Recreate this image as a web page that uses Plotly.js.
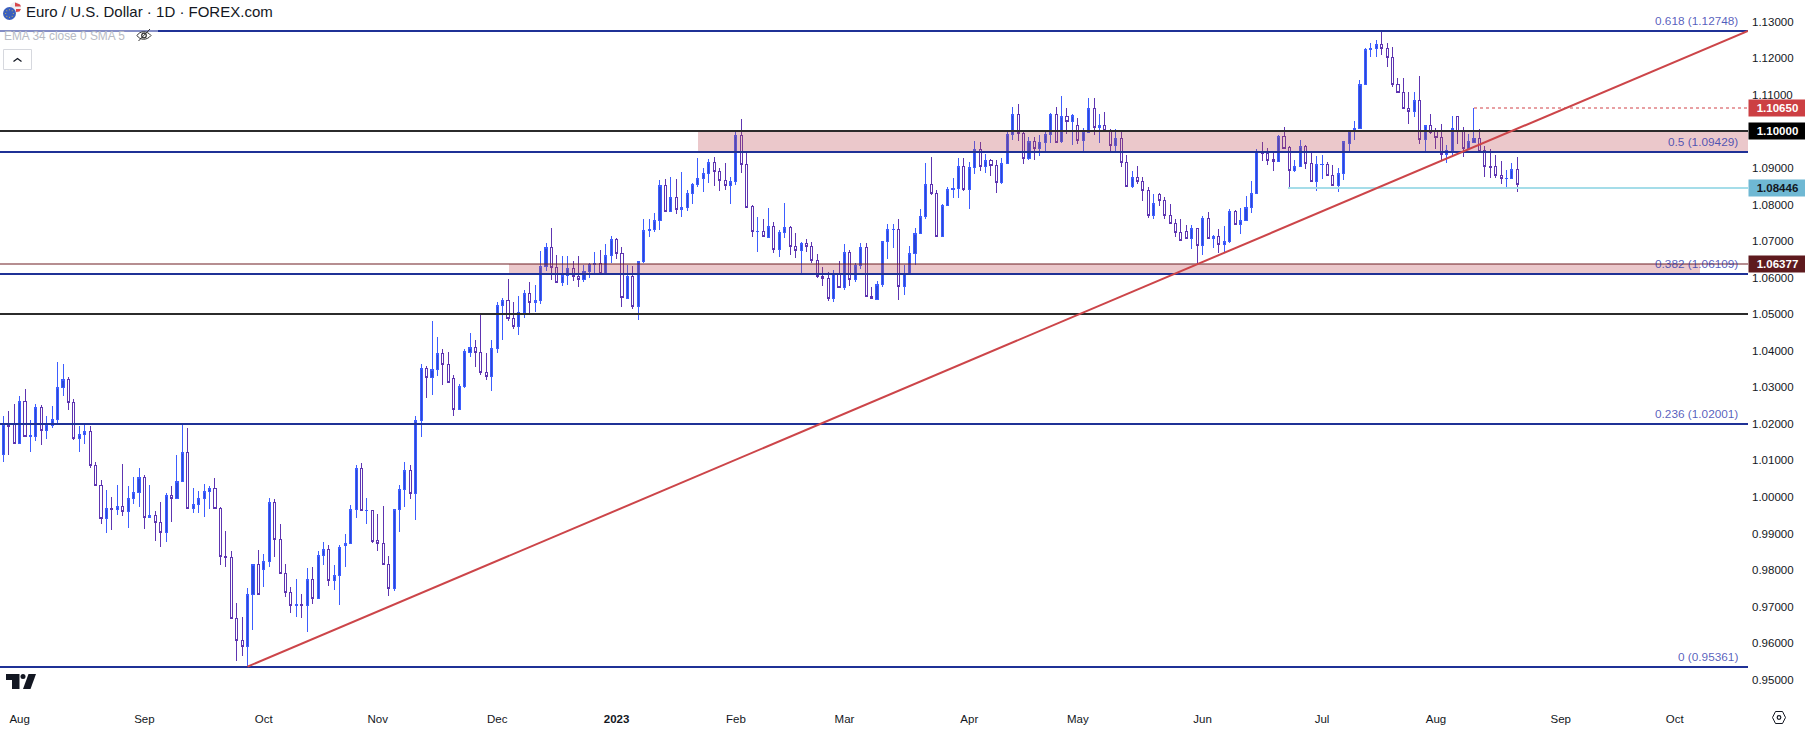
<!DOCTYPE html>
<html>
<head>
<meta charset="utf-8">
<script src="https://cdn.plot.ly/plotly-3.0.1.min.js"></script>
<style>html,body{margin:0;padding:0;background:#fff;overflow:hidden}#chart{width:1805px;height:729px}.boxes path{shape-rendering:crispEdges}</style>
</head>
<body>
<div id="chart"></div>
<script>
const opens = [
1.0115,1.0199,1.0197,1.0145,1.0262,1.0165,1.0165,1.0245,1.0181,1.0195,
1.0211,1.0299,1.0322,1.0259,1.0159,1.0170,1.0180,1.0087,1.0031,.9941,
.9969,.9966,.9974,.9961,.9996,1.0013,1.0054,.9944,.9950,.9931,
.9904,1.0004,.9995,1.0043,1.0122,.9968,.9980,.9996,1.0015,1.0024,
.9969,.9836,.9835,.9667,.9607,.9590,.9734,.9816,.9802,.9823,
.9985,.9884,.9791,.9739,.9704,.9705,.9704,.9775,.9722,.9840,
.9857,.9771,.9785,.9868,.9873,.9965,1.0079,.9963,.9963,.9880,
.9873,.9816,.9749,.9966,1.0021,1.0073,1.0009,1.0209,1.0352,1.0326,
1.0348,1.0393,1.0363,1.0325,1.0239,1.0302,1.0396,1.0409,1.0396,1.0341,
1.0329,1.0406,1.0524,1.0538,1.0489,1.0466,1.0504,1.0557,1.0532,1.0538,
1.0631,1.0683,1.0628,1.0587,1.0606,1.0625,1.0604,1.0595,1.0617,1.0636,
1.0639,1.0611,1.0661,1.0705,1.0666,1.0543,1.0604,1.0520,1.0644,1.0729,
1.0731,1.0757,1.0852,1.0780,1.0820,1.0787,1.0792,1.0831,1.0855,1.0870,
1.0885,1.0915,1.0891,1.0866,1.0851,1.0862,1.0989,1.0909,1.0795,1.0726,
1.0727,1.0710,1.0740,1.0676,1.0723,1.0738,1.0686,1.0674,1.0694,1.0686,
1.0647,1.0604,1.0598,1.0542,1.0610,1.0572,1.0669,1.0595,1.0633,1.0683,
1.0549,1.0541,1.0581,1.0699,1.0731,1.0732,1.0575,1.0611,1.0666,1.0720,
1.0767,1.0855,1.0831,1.0712,1.0798,1.0841,1.0843,1.0904,1.0840,1.0901,
1.0951,1.0903,1.0921,1.0907,1.0860,1.0913,1.0992,1.1047,1.0995,1.0925,
1.0973,1.0953,1.0970,1.0992,1.1047,1.0971,1.1041,1.1028,1.1017,1.0976,
1.0997,1.1063,1.1011,1.1017,1.1003,1.0962,1.0981,1.0915,1.0849,1.0874,
1.0863,1.0839,1.0769,1.0828,1.0811,1.0770,1.0747,1.0724,1.0727,1.0707,
1.0735,1.0687,1.0762,1.0707,1.0713,1.0691,1.0698,1.0781,1.0746,1.0757,
1.0792,1.0830,1.0945,1.0940,1.0922,1.0917,1.0986,1.0956,1.0892,1.0903,
1.0959,1.0912,1.0862,1.0909,1.0910,1.0880,1.0851,1.0884,1.0966,1.1000,
1.1007,1.1129,1.1223,1.1226,1.1238,1.1227,1.1203,1.1128,1.1107,1.1063,
1.1055,1.1085,1.0978,1.1016,1.0999,1.0984,1.0937,1.0947,1.1041,1.1003,
1.0954,1.0970,1.0981,1.0948,1.0904,1.0904,1.0880,1.0871,1.0871,1.0896];
const closes = [
1.0199,1.0194,1.0145,1.0262,1.0165,1.0167,1.0245,1.0182,1.0198,1.0212,
1.0300,1.0322,1.0259,1.0159,1.0171,1.0180,1.0087,1.0031,.9941,.9969,
.9966,.9974,.9961,.9996,1.0013,1.0054,.9944,.9950,.9931,.9904,
1.0004,.9995,1.0043,1.0122,.9968,.9980,.9996,1.0015,1.0024,.9969,
.9836,.9835,.9667,.9607,.9590,.9734,.9816,.9733,.9824,.9985,
.9884,.9790,.9738,.9704,.9705,.9704,.9775,.9722,.9840,.9857,
.9771,.9786,.9862,.9873,.9967,1.0079,.9962,.9964,.9879,.9873,
.9815,.9749,.9966,1.0021,1.0073,1.0009,1.0209,1.0352,1.0326,1.0349,
1.0393,1.0362,1.0312,1.0239,1.0303,1.0397,1.0409,1.0396,1.0340,1.0329,
1.0407,1.0524,1.0538,1.0488,1.0466,1.0505,1.0557,1.0532,1.0538,1.0631,
1.0683,1.0628,1.0587,1.0606,1.0625,1.0604,1.0595,1.0617,1.0636,1.0639,
1.0612,1.0661,1.0705,1.0666,1.0546,1.0604,1.0520,1.0645,1.0729,1.0732,
1.0757,1.0852,1.0780,1.0820,1.0787,1.0792,1.0831,1.0855,1.0872,1.0885,
1.0915,1.0891,1.0866,1.0851,1.0863,1.0989,1.0909,1.0792,1.0726,1.0727,
1.0712,1.0740,1.0676,1.0724,1.0738,1.0685,1.0674,1.0694,1.0686,1.0646,
1.0604,1.0597,1.0542,1.0610,1.0572,1.0669,1.0595,1.0634,1.0683,1.0549,
1.0542,1.0582,1.0699,1.0732,1.0732,1.0575,1.0612,1.0666,1.0721,1.0768,
1.0855,1.0831,1.0712,1.0798,1.0841,1.0844,1.0904,1.0840,1.0902,1.0951,
1.0903,1.0921,1.0907,1.0860,1.0913,1.0992,1.1047,1.0995,1.0925,1.0973,
1.0953,1.0970,1.0992,1.1047,1.0970,1.1041,1.1028,1.1044,1.0976,1.1000,
1.1063,1.1011,1.1017,1.1003,1.0962,1.0981,1.0915,1.0850,1.0874,1.0862,
1.0839,1.0769,1.0803,1.0811,1.0769,1.0747,1.0723,1.0701,1.0707,1.0735,
1.0687,1.0762,1.0707,1.0713,1.0691,1.0699,1.0781,1.0746,1.0757,1.0792,
1.0831,1.0945,1.0940,1.0920,1.0917,1.0986,1.0954,1.0892,1.0904,1.0959,
1.0912,1.0862,1.0910,1.0910,1.0879,1.0851,1.0885,1.0973,1.0999,1.1008,
1.1129,1.1225,1.1227,1.1238,1.1226,1.1203,1.1128,1.1107,1.1062,1.1055,
1.1085,1.0978,1.1016,1.0996,1.0984,1.0937,1.0948,1.1008,1.1001,1.0954,
1.0973,1.0981,1.0946,1.0903,1.0902,1.0879,1.0871,1.0872,1.0896,1.0854];
const highs = [
1.0221,1.0235,1.0253,1.0276,1.0295,1.0210,1.0253,1.0251,1.0221,1.0249,
1.0368,1.0364,1.0327,1.0268,1.0194,1.0201,1.0194,1.0096,1.0046,1.0019,
.9999,1.0033,1.0089,1.0030,1.0054,1.0078,1.0059,1.0033,.9961,.9986,
1.0010,1.0030,1.0115,1.0200,1.0188,1.0024,1.0017,1.0035,1.0030,1.0051,
.9972,.9907,.9852,.9709,.9671,.9750,.9817,.9855,.9844,.9998,
.9995,.9926,.9817,.9753,.9775,.9734,.9806,.9808,.9852,.9876,
.9870,.9814,.9868,.9899,.9978,1.0088,1.0092,.9996,.9965,.9953,
.9974,.9839,.9967,1.0033,1.0096,1.0087,1.0221,1.0364,1.0358,1.0480,
1.0437,1.0406,1.0396,1.0334,1.0309,1.0404,1.0448,1.0429,1.0499,1.0394,
1.0429,1.0533,1.0543,1.0596,1.0533,1.0550,1.0565,1.0588,1.0580,1.0673,
1.0694,1.0735,1.0662,1.0659,1.0659,1.0645,1.0659,1.0634,1.0639,1.0669,
1.0676,1.0692,1.0714,1.0707,1.0683,1.0634,1.0632,1.0645,1.0760,1.0760,
1.0777,1.0867,1.0870,1.0874,1.0870,1.0888,1.0840,1.0858,1.0926,1.0899,
1.0924,1.0930,1.0899,1.0913,1.0874,1.0999,1.1034,1.0943,1.0798,1.0766,
1.0760,1.0790,1.0752,1.0729,1.0804,1.0741,1.0721,1.0697,1.0705,1.0697,
1.0665,1.0628,1.0614,1.0621,1.0645,1.0692,1.0676,1.0641,1.0694,1.0694,
1.0573,1.0591,1.0699,1.0748,1.0748,1.0759,1.0634,1.0686,1.0735,1.0787,
1.0913,1.0929,1.0839,1.0800,1.0847,1.0872,1.0926,1.0926,1.0915,1.0973,
1.0971,1.0937,1.0924,1.0922,1.0926,1.0999,1.1066,1.1075,1.0999,1.0985,
1.0984,1.0989,1.0998,1.1050,1.1066,1.1097,1.1063,1.1047,1.1036,1.1008,
1.1090,1.1090,1.1047,1.1052,1.1006,1.1006,1.0999,1.0934,1.0891,1.0905,
1.0874,1.0847,1.0829,1.0831,1.0821,1.0801,1.0760,1.0759,1.0743,1.0744,
1.0735,1.0768,1.0780,1.0716,1.0733,1.0741,1.0787,1.0784,1.0790,1.0823,
1.0863,1.0951,1.0971,1.0954,1.0945,1.0989,1.1011,1.0960,1.0922,1.0976,
1.0962,1.0943,1.0933,1.0935,1.0915,1.0907,1.0899,1.0973,1.1000,1.1027,
1.1140,1.1229,1.1242,1.1250,1.1276,1.1241,1.1230,1.1145,1.1145,1.1107,
1.1107,1.1151,1.1017,1.1047,1.1008,1.1020,1.0962,1.1041,1.1041,1.1011,
1.0994,1.1065,1.1006,1.0960,1.0951,1.0935,1.0919,1.0894,1.0913,1.0930];
const lows = [
1.0096,1.0115,1.0145,1.0145,1.0165,1.0124,1.0153,1.0142,1.0158,1.0188,
1.0201,1.0276,1.0238,1.0156,1.0124,1.0145,1.0080,1.0031,.9926,.9902,
.9910,.9951,.9948,.9915,.9981,.9972,.9913,.9944,.9880,.9864,
.9878,.9932,.9995,1.0043,.9968,.9955,.9957,.9946,.9968,.9966,
.9815,.9809,.9667,.9552,.9566,.9536,.9636,.9733,.9755,.9808,
.9836,.9790,.9727,.9682,.9673,.9670,.9631,.9707,.9722,.9814,
.9756,.9745,.9704,.9809,.9873,.9943,.9962,.9926,.9874,.9853,
.9815,.9729,.9744,.9905,.9972,.9994,.9937,1.0165,1.0271,1.0279,
1.0330,1.0307,1.0312,1.0222,1.0239,1.0299,1.0384,1.0356,1.0333,1.0321,
1.0291,1.0395,1.0429,1.0482,1.0460,1.0443,1.0490,1.0502,1.0507,1.0528,
1.0618,1.0593,1.0587,1.0578,1.0580,1.0592,1.0575,1.0589,1.0600,1.0612,
1.0612,1.0611,1.0639,1.0652,1.0520,1.0541,1.0515,1.0484,1.0639,1.0712,
1.0726,1.0731,1.0780,1.0780,1.0774,1.0767,1.0783,1.0801,1.0849,1.0835,
1.0860,1.0851,1.0838,1.0840,1.0801,1.0853,1.0887,1.0792,1.0712,1.0670,
1.0712,1.0708,1.0668,1.0656,1.0708,1.0662,1.0654,1.0612,1.0670,1.0639,
1.0600,1.0577,1.0537,1.0533,1.0572,1.0566,1.0577,1.0589,1.0624,1.0549,
1.0542,1.0541,1.0575,1.0652,1.0680,1.0539,1.0553,1.0609,1.0634,1.0720,
1.0761,1.0825,1.0712,1.0712,1.0796,1.0819,1.0819,1.0838,1.0788,1.0884,
1.0892,1.0887,1.0879,1.0832,1.0857,1.0913,1.0976,1.0974,1.0912,1.0921,
1.0922,1.0933,1.0940,1.0967,1.0968,1.0967,1.0993,1.0963,1.0966,1.0945,
1.0997,1.0989,1.0969,1.1003,1.0943,1.0943,1.0902,1.0850,1.0846,1.0857,
1.0810,1.0764,1.0761,1.0797,1.0761,1.0747,1.0712,1.0701,1.0707,1.0677,
1.0636,1.0662,1.0707,1.0680,1.0668,1.0666,1.0695,1.0746,1.0718,1.0757,
1.0776,1.0830,1.0920,1.0908,1.0892,1.0917,1.0951,1.0846,1.0890,1.0903,
1.0898,1.0862,1.0838,1.0871,1.0879,1.0851,1.0835,1.0868,1.0943,1.0976,
1.1006,1.1129,1.1204,1.1204,1.1209,1.1177,1.1120,1.1107,1.1062,1.1021,
1.1040,1.0966,1.0943,1.0994,1.0952,1.0922,1.0914,1.0935,1.0966,1.0930,
1.0949,1.0967,1.0944,1.0876,1.0873,1.0873,1.0857,1.0846,1.0871,1.0835];
const barIndex = opens.map((_, i) => i);

const monthTicks = [3,26,48,69,91,113,135,155,178,198,221,243,264,287,308];
const monthLabels = ['Aug','Sep','Oct','Nov','Dec','<b>2023</b>','Feb','Mar','Apr','May','Jun','Jul','Aug','Sep','Oct'];
const priceTicks = [0.95,0.96,0.97,0.98,0.99,1.00,1.01,1.02,1.03,1.04,1.05,1.06,1.07,1.08,1.09,1.11,1.12,1.13];
const fibLevels = [1.12748,1.09429,1.06109,1.02001,0.95361];
const fibLabels = ['0.618 (1.12748)','0.5 (1.09429)','0.382 (1.06109)','0.236 (1.02001)','0 (0.95361)'];
const blackLevels = [1.10,1.05];
const priceChips = [
  {value:1.1065, text:'1.10650', bg:'#cc3f43', fg:'#ffffff'},
  {value:1.10,   text:'1.10000', bg:'#000000', fg:'#ffffff'},
  {value:1.08446,text:'1.08446', bg:'#6fb8d3', fg:'#131722'},
  {value:1.06377,text:'1.06377', bg:'#5e1a1e', fg:'#ffffff'}
];
const xFirst = -0.614, xLast = 321.5, yBottom = 0.94447, yTop = 1.13593;
const FONT = 'Liberation Sans, Arial, sans-serif';
const PW = 1748, PH = 700;
const P = x => x / PW, Q = y => 1 - y / PH;
const pathPx = pts => pts.map(s => typeof s === 'string' ? s : P(s[0]) + ',' + Q(s[1])).join(' ').replace(/([MLZ]) /g, '$1');

const shapes = [];
// zones
const zone = (x0, x1, y0, y1) => shapes.push({type:'rect', xref:'x', yref:'y', x0, x1, y0, y1, fillcolor:'rgba(188,72,82,0.3)', line:{width:0}, layer:'above'});
zone(128, xLast, 1.09429, 1.10);
zone(93.2, 312.7, 1.06109, 1.06377);
// horizontal levels
const hline = (x0, y, color, width, dash) => shapes.push({type:'line', xref:'x', yref:'y', x0, x1:xLast, y0:y, y1:y, line:{color, width, dash:dash||'solid'}, layer:'above'});
hline(xFirst, 1.06377, 'rgba(110,30,35,0.5)', 2);
fibLevels.forEach(v => hline(xFirst, v, '#1f3196', 2));
blackLevels.forEach(v => hline(xFirst, v, '#2b2b2b', 2));
hline(236.8, 1.08446, '#a5dde9', 2);
hline(271, 1.1065, '#e8a0a3', 2, 'dot');
const crispCount = shapes.length;
// trend line
shapes.push({type:'line', xref:'x', yref:'y', x0:45, y0:0.95361, x1:xLast, y1:1.12748, line:{color:'#cc4549', width:2}, layer:'above'});

// legend fade over top line
shapes.push({type:'rect', xref:'paper', yref:'paper', x0:P(0), x1:P(158), y0:Q(44), y1:Q(26), fillcolor:'rgba(255,255,255,0.45)', line:{width:0}, layer:'above'});
// flag icon
const circ = (cx, cy, r, fill, lineColor) => shapes.push({type:'circle', xref:'paper', yref:'paper', x0:P(cx-r), x1:P(cx+r), y0:Q(cy+r), y1:Q(cy-r), fillcolor:fill, line:{width:lineColor?1.2:0, color:lineColor||fill}, layer:'above'});
circ(15.5, 7.5, 5.5, '#f0f0f4');
shapes.push({type:'path', xref:'paper', yref:'paper', path:pathPx(['M',[15,2.5],'L',[20,4.5],'L',[21,6.5],'L',[15,6.5],'Z']), fillcolor:'#d8474c', line:{width:0}, layer:'above'});
shapes.push({type:'path', xref:'paper', yref:'paper', path:pathPx(['M',[16,9],'L',[21,9],'L',[19.5,11.5],'L',[16,12],'Z']), fillcolor:'#d8474c', line:{width:0}, layer:'above'});
circ(9.5, 13.5, 6.5, '#3b5fbd');
[0,1,2,3,4,5,6,7].forEach(k => circ(9.5+3.8*Math.cos(k*Math.PI/4), 13.5+3.8*Math.sin(k*Math.PI/4), 0.5, '#e8c83c'));
// eye-off icon
shapes.push({type:'path', xref:'paper', yref:'paper', path:pathPx(['M',[137,35.5],'C',[140,30.5],[147,30.5],[151,35.5],'C',[147,40.5],[140,40.5],[137,35.5],'Z']), fillcolor:'rgba(0,0,0,0)', line:{color:'#333', width:1}, layer:'above'});
circ(144, 35.5, 2.3, 'rgba(0,0,0,0)', '#333');
shapes.push({type:'line', xref:'paper', yref:'paper', x0:P(138.5), x1:P(150), y0:Q(41), y1:Q(29), line:{color:'#333', width:1}, layer:'above'});
// collapse button
shapes.push({type:'rect', xref:'paper', yref:'paper', x0:P(3.5), x1:P(31.5), y0:Q(69.5), y1:Q(49.5), fillcolor:'#ffffff', line:{color:'#d6d8de', width:1}, layer:'above'});
shapes.push({type:'path', xref:'paper', yref:'paper', path:pathPx(['M',[13.5,61.5],'L',[17.5,58.5],'L',[21.5,61.5]]), fillcolor:'rgba(0,0,0,0)', line:{color:'#131722', width:1.3}, layer:'above'});
// TradingView mark
shapes.push({type:'path', xref:'paper', yref:'paper', path:pathPx(['M',[6,674],'L',[19.5,674],'L',[19.5,689],'L',[12,689],'L',[12,680],'L',[6,680],'Z']), fillcolor:'#131722', line:{width:0}, layer:'above'});
circ(23, 676.6, 2.5, '#131722');
shapes.push({type:'path', xref:'paper', yref:'paper', path:pathPx(['M',[28.5,674],'L',[36,674],'L',[30.5,689],'L',[23,689],'Z']), fillcolor:'#131722', line:{width:0}, layer:'above'});
// settings icon
shapes.push({type:'path', xref:'paper', yref:'paper', path:pathPx(['M',[1772.5,717.5],'L',[1775.5,711.5],'L',[1782.5,711.5],'L',[1785.5,717.5],'L',[1782.5,723.5],'L',[1775.5,723.5],'Z']), fillcolor:'rgba(0,0,0,0)', line:{color:'#131722', width:1}, layer:'above'});
circ(1779, 717.5, 1.8, 'rgba(0,0,0,0)', '#131722');

const annotations = [];
fibLabels.forEach((t, k) => annotations.push({xref:'paper', x:P(1739.5), xanchor:'right', yref:'y', y:fibLevels[k], yanchor:'middle', yshift:10, text:t, showarrow:false, font:{family:FONT, size:11.8, color:'rgba(31,49,170,0.78)'}}));
priceChips.forEach(c => annotations.push({xref:'paper', x:1, xanchor:'left', yref:'y', y:c.value, yanchor:'middle', text:'<b>'+c.text+'</b>', width:57, height:16, align:'center', valign:'middle', bgcolor:c.bg, borderpad:0, showarrow:false, font:{family:FONT, size:11.5, color:c.fg}}));
annotations.push({xref:'paper', yref:'paper', x:P(24), y:Q(12), xanchor:'left', yanchor:'middle', text:'Euro / U.S. Dollar · 1D · FOREX.com', showarrow:false, font:{family:FONT, size:15, color:'#131722'}});
annotations.push({xref:'paper', yref:'paper', x:P(2), y:Q(35.5), xanchor:'left', yanchor:'middle', text:'EMA 34 close 0 SMA 5', showarrow:false, font:{family:FONT, size:11.9, color:'#b8bbc4'}});

const candles = {
  type:'candlestick', x:barIndex, open:opens, high:highs, low:lows, close:closes,
  increasing:{line:{color:'#3d5dff', width:1}, fillcolor:'#2b49d4'},
  decreasing:{line:{color:'#5e35b1', width:1}, fillcolor:'#ffffff'},
  whiskerwidth:0, hoverinfo:'skip', showlegend:false
};
const layout = {
  width:1805, height:729, margin:{l:0, r:57, t:0, b:29, pad:0}, boxgap:0.45,
  paper_bgcolor:'#ffffff', plot_bgcolor:'#ffffff', showlegend:false, dragmode:false,
  xaxis:{type:'linear', range:[xFirst, xLast], rangeslider:{visible:false}, showgrid:false, zeroline:false, showline:false,
    tickmode:'array', tickvals:monthTicks, ticktext:monthLabels, ticks:'', ticklen:0, ticklabelstandoff:10,
    tickfont:{family:FONT, size:11.5, color:'#131722'}},
  yaxis:{type:'linear', side:'right', range:[yBottom, yTop], showgrid:false, zeroline:false, showline:false,
    tickmode:'array', tickvals:priceTicks, tickformat:'.5f', ticks:'', ticklen:0, ticklabelstandoff:3,
    tickfont:{family:FONT, size:11.5, color:'#131722'}},
  shapes, annotations
};
Plotly.newPlot('chart', [candles], layout, {displayModeBar:false, staticPlot:true}).then(() => {
  document.querySelectorAll('.shapelayer path[data-index]').forEach(p => {
    if (+p.getAttribute('data-index') < crispCount) p.style.shapeRendering = 'crispEdges';
  });
});
</script>
</body>
</html>
